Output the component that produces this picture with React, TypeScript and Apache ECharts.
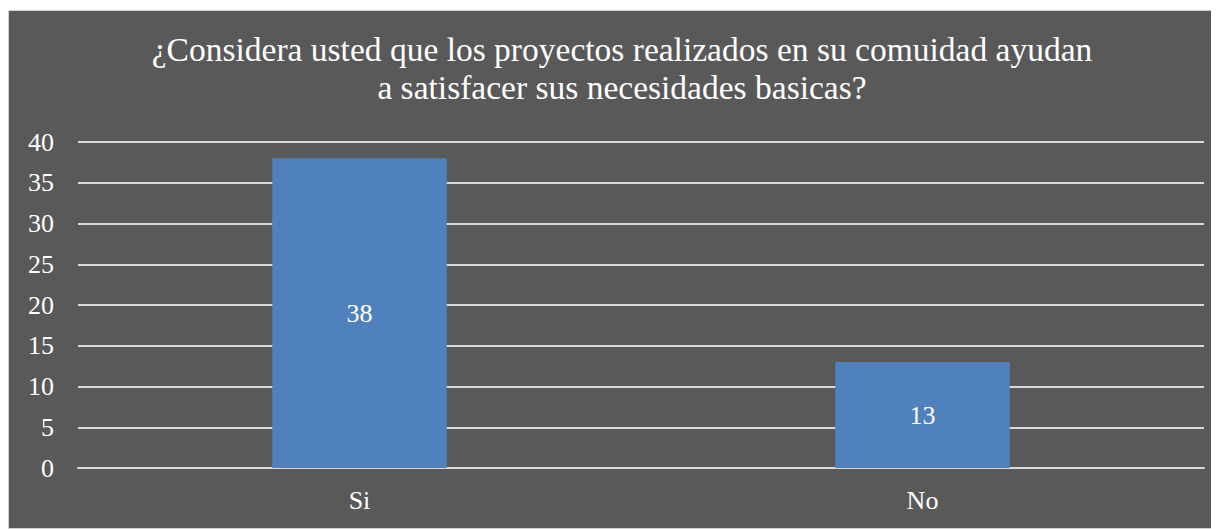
import React, { useEffect, useRef } from "react";
import * as echarts from "echarts";

const titleText = "¿Considera usted que los proyectos realizados en su comuidad ayudan\na satisfacer sus necesidades basicas?";
const categories = ["Si", "No"];
const values = [38, 13];
const yTicks = { min: 0, max: 40, interval: 5 };

export default function App() {
  const ref = useRef<HTMLDivElement>(null);
  useEffect(() => {
    if (!ref.current) return;
    const chart = echarts.init(ref.current, undefined, { renderer: "svg" });
    const font = "Liberation Serif";
    chart.setOption({
      animation: false,
      backgroundColor: "#595959",
      title: {
        text: titleText,
        left: 608,
        top: 14,
        textAlign: "center",
        textStyle: { color: "#ffffff", fontFamily: font, fontSize: 33.5, fontWeight: "normal", lineHeight: 38, align: "center" },
      },
      grid: { left: 69, right: 14, top: 131, bottom: 60 },
      xAxis: {
        type: "category",
        data: categories,
        axisLine: { lineStyle: { color: "#d9d9d9", width: 2 } },
        axisTick: { show: false },
        axisLabel: { color: "#ffffff", fontFamily: font, fontSize: 26, margin: 19 },
      },
      yAxis: {
        type: "value",
        min: yTicks.min,
        max: yTicks.max,
        interval: yTicks.interval,
        axisLine: { show: false },
        axisTick: { show: false },
        axisLabel: { color: "#ffffff", fontFamily: font, fontSize: 26, margin: 24 },
        splitLine: { lineStyle: { color: "#d9d9d9", width: 2 } },
      },
      series: [
        {
          type: "bar",
          data: values,
          barWidth: "31%",
          itemStyle: { color: "#4f81bd" },
          label: {
            show: true,
            position: "inside",
            color: "#ffffff",
            fontFamily: font,
            fontSize: 26,
          },
        },
      ],
    });
    return () => chart.dispose();
  }, []);
  return (
    <div style={{ marginTop: 2, width: 1211, height: 519, boxSizing: "border-box", border: "1px solid #d0d0d0", background: "#595959" }}>
      <div ref={ref} style={{ width: 1209, height: 517 }} />
    </div>
  );
}
